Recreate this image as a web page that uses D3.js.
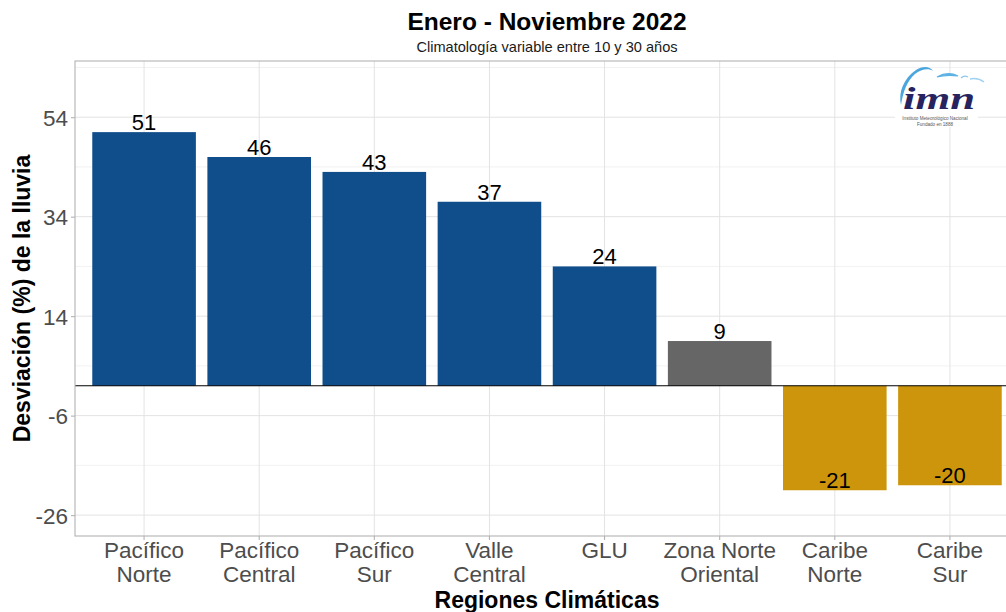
<!DOCTYPE html>
<html><head><meta charset="utf-8">
<script src="https://cdn.jsdelivr.net/npm/d3@7"></script>
<style>body{margin:0;background:#fff}svg{display:block}text{font-family:"Liberation Sans",Arial,sans-serif}</style>
</head><body><svg id="c" width="1006" height="612"></svg>
<script>
const categories = ["Pacífico\nNorte","Pacífico\nCentral","Pacífico\nSur","Valle\nCentral","GLU","Zona Norte\nOriental","Caribe\nNorte","Caribe\nSur"];
const values = [51,46,43,37,24,9,-21,-20];
const groups = ["pos","pos","pos","pos","pos","neu","neg","neg"];
const yBreaks = [-26,-6,14,34,54];
const yMinor = [-16,4,24,44,64];
const yLimits = [-30.2,65.3];
const title = "Enero - Noviembre 2022";
const subtitle = "Climatología variable entre 10 y 30 años";
const xTitle = "Regiones Climáticas";
const yTitle = "Desviación (%) de la lluvia";
const colors = {pos:"#104E8B", neu:"#666666", neg:"#CD950C"};

const svg = d3.select("#c");
const P = {left:75, top:61, right:1019, bottom:536};
const x = d3.scaleBand().domain(categories).range([P.left,P.right]).paddingInner(0.1).paddingOuter(0.15);
const y = d3.scaleLinear().domain(yLimits).range([P.bottom,P.top]);
const cx = c => x(c)+x.bandwidth()/2;

const g = svg.append("g");
// minor grid
g.selectAll(".ymin").data(yMinor).join("line")
  .attr("x1",P.left).attr("x2",P.right).attr("y1",d=>y(d)).attr("y2",d=>y(d))
  .attr("stroke","#ededed").attr("stroke-width",0.7);
// major grid
g.selectAll(".ymaj").data(yBreaks).join("line")
  .attr("x1",P.left).attr("x2",P.right).attr("y1",d=>y(d)).attr("y2",d=>y(d))
  .attr("stroke","#e3e3e3").attr("stroke-width",1);
g.selectAll(".xmaj").data(categories).join("line")
  .attr("x1",d=>cx(d)).attr("x2",d=>cx(d)).attr("y1",P.top).attr("y2",P.bottom)
  .attr("stroke","#e3e3e3").attr("stroke-width",1);

// logo
const logo = svg.append("g");
logo.append("rect").attr("x",895).attr("y",75).attr("width",83).attr("height",52).attr("fill","#fff");
logo.append("path").attr("d","M901,105 C898,92 904,78 916,70 C922,66 930,66 933,71 C929,68 921,69 915,74 C907,81 903,92 901,105 Z").attr("fill","#4ba6de");
logo.append("path").attr("d","M937,77 C944,73 952,73 958,76 C952,75 944,75 937,77 Z").attr("fill","#5cb1e4").attr("stroke","#5cb1e4").attr("stroke-width",1.2);
logo.append("path").attr("d","M961,78 C963,76 966,76 968,77").attr("fill","none").attr("stroke","#8cc8ee").attr("stroke-width",1.2);
logo.append("path").attr("d","M970,79 C975,78 980,79 984,82").attr("fill","none").attr("stroke","#9fd2f1").attr("stroke-width",1.5);
logo.append("text").attr("x",903).attr("y",109).attr("textLength",72).attr("lengthAdjust","spacingAndGlyphs")
  .style("font-family","'Liberation Serif',serif").style("font-style","italic").style("font-weight","bold")
  .style("font-size","32px").attr("fill","#27235f").text("imn");
logo.append("text").attr("x",935).attr("y",120).attr("text-anchor","middle").style("font-size","4.6px").attr("fill","#555").text("Instituto Meteorológico Nacional");
logo.append("text").attr("x",935).attr("y",126).attr("text-anchor","middle").style("font-size","4.6px").attr("fill","#555").text("Fundado en 1888");

// bars
g.selectAll(".bar").data(values).join("rect")
  .attr("x",(d,i)=>x(categories[i])).attr("width",x.bandwidth())
  .attr("y",d=>y(Math.max(0,d))).attr("height",d=>Math.abs(y(d)-y(0)))
  .attr("fill",(d,i)=>colors[groups[i]]);
// zero line
g.append("line").attr("x1",P.left).attr("x2",P.right).attr("y1",y(0)).attr("y2",y(0)).attr("stroke","#000").attr("stroke-width",1.1);
// labels
g.selectAll(".lab").data(values).join("text")
  .attr("x",(d,i)=>cx(categories[i])).attr("y",d=>y(d)-2).attr("text-anchor","middle")
  .style("font-size","22px").attr("fill","#000").text(d=>String(d));

// border
svg.append("rect").attr("x",P.left).attr("y",P.top).attr("width",P.right-P.left).attr("height",P.bottom-P.top)
  .attr("fill","none").attr("stroke","#b3b3b3").attr("stroke-width",1.1);

// y axis
const ya = svg.append("g").attr("transform",`translate(${P.left},0)`)
  .call(d3.axisLeft(y).tickValues(yBreaks).tickSize(4).tickPadding(3).tickFormat(d=>String(d)));
ya.select(".domain").remove();
ya.selectAll("line").attr("stroke","#b3b3b3").attr("stroke-width",1.1);
ya.selectAll("text").attr("fill","#4d4d4d").style("font-size","22.5px").style("font-family","'Liberation Sans',Arial,sans-serif").attr("dy","0.36em");

// x axis
const xa = svg.append("g").attr("transform",`translate(0,${P.bottom})`)
  .call(d3.axisBottom(x).tickSize(4).tickFormat(""));
xa.select(".domain").remove();
xa.selectAll("line").attr("stroke","#b3b3b3").attr("stroke-width",1.1);
xa.selectAll(".tick").each(function(d){
  const t = d3.select(this).append("text").attr("text-anchor","middle").attr("fill","#4d4d4d")
    .style("font-size","22.5px").style("font-family","'Liberation Sans',Arial,sans-serif");
  d.split("\n").forEach((s,i)=>t.append("tspan").attr("x",0).attr("y",22+i*23.5).text(s));
});

// titles
svg.append("text").attr("x",(P.left+P.right)/2).attr("y",29.5).attr("text-anchor","middle")
  .style("font-size","24.5px").style("font-weight","bold").text(title);
svg.append("text").attr("x",(P.left+P.right)/2).attr("y",52).attr("text-anchor","middle")
  .style("font-size","14.6px").attr("fill","#1a1a1a").text(subtitle);
svg.append("text").attr("x",(P.left+P.right)/2).attr("y",607.5).attr("text-anchor","middle")
  .style("font-size","23px").style("font-weight","bold").text(xTitle);
svg.append("text").attr("transform",`translate(30,${(P.top+P.bottom)/2}) rotate(-90)`).attr("text-anchor","middle")
  .style("font-size","23px").style("font-weight","bold").text(yTitle);
</script></body></html>
